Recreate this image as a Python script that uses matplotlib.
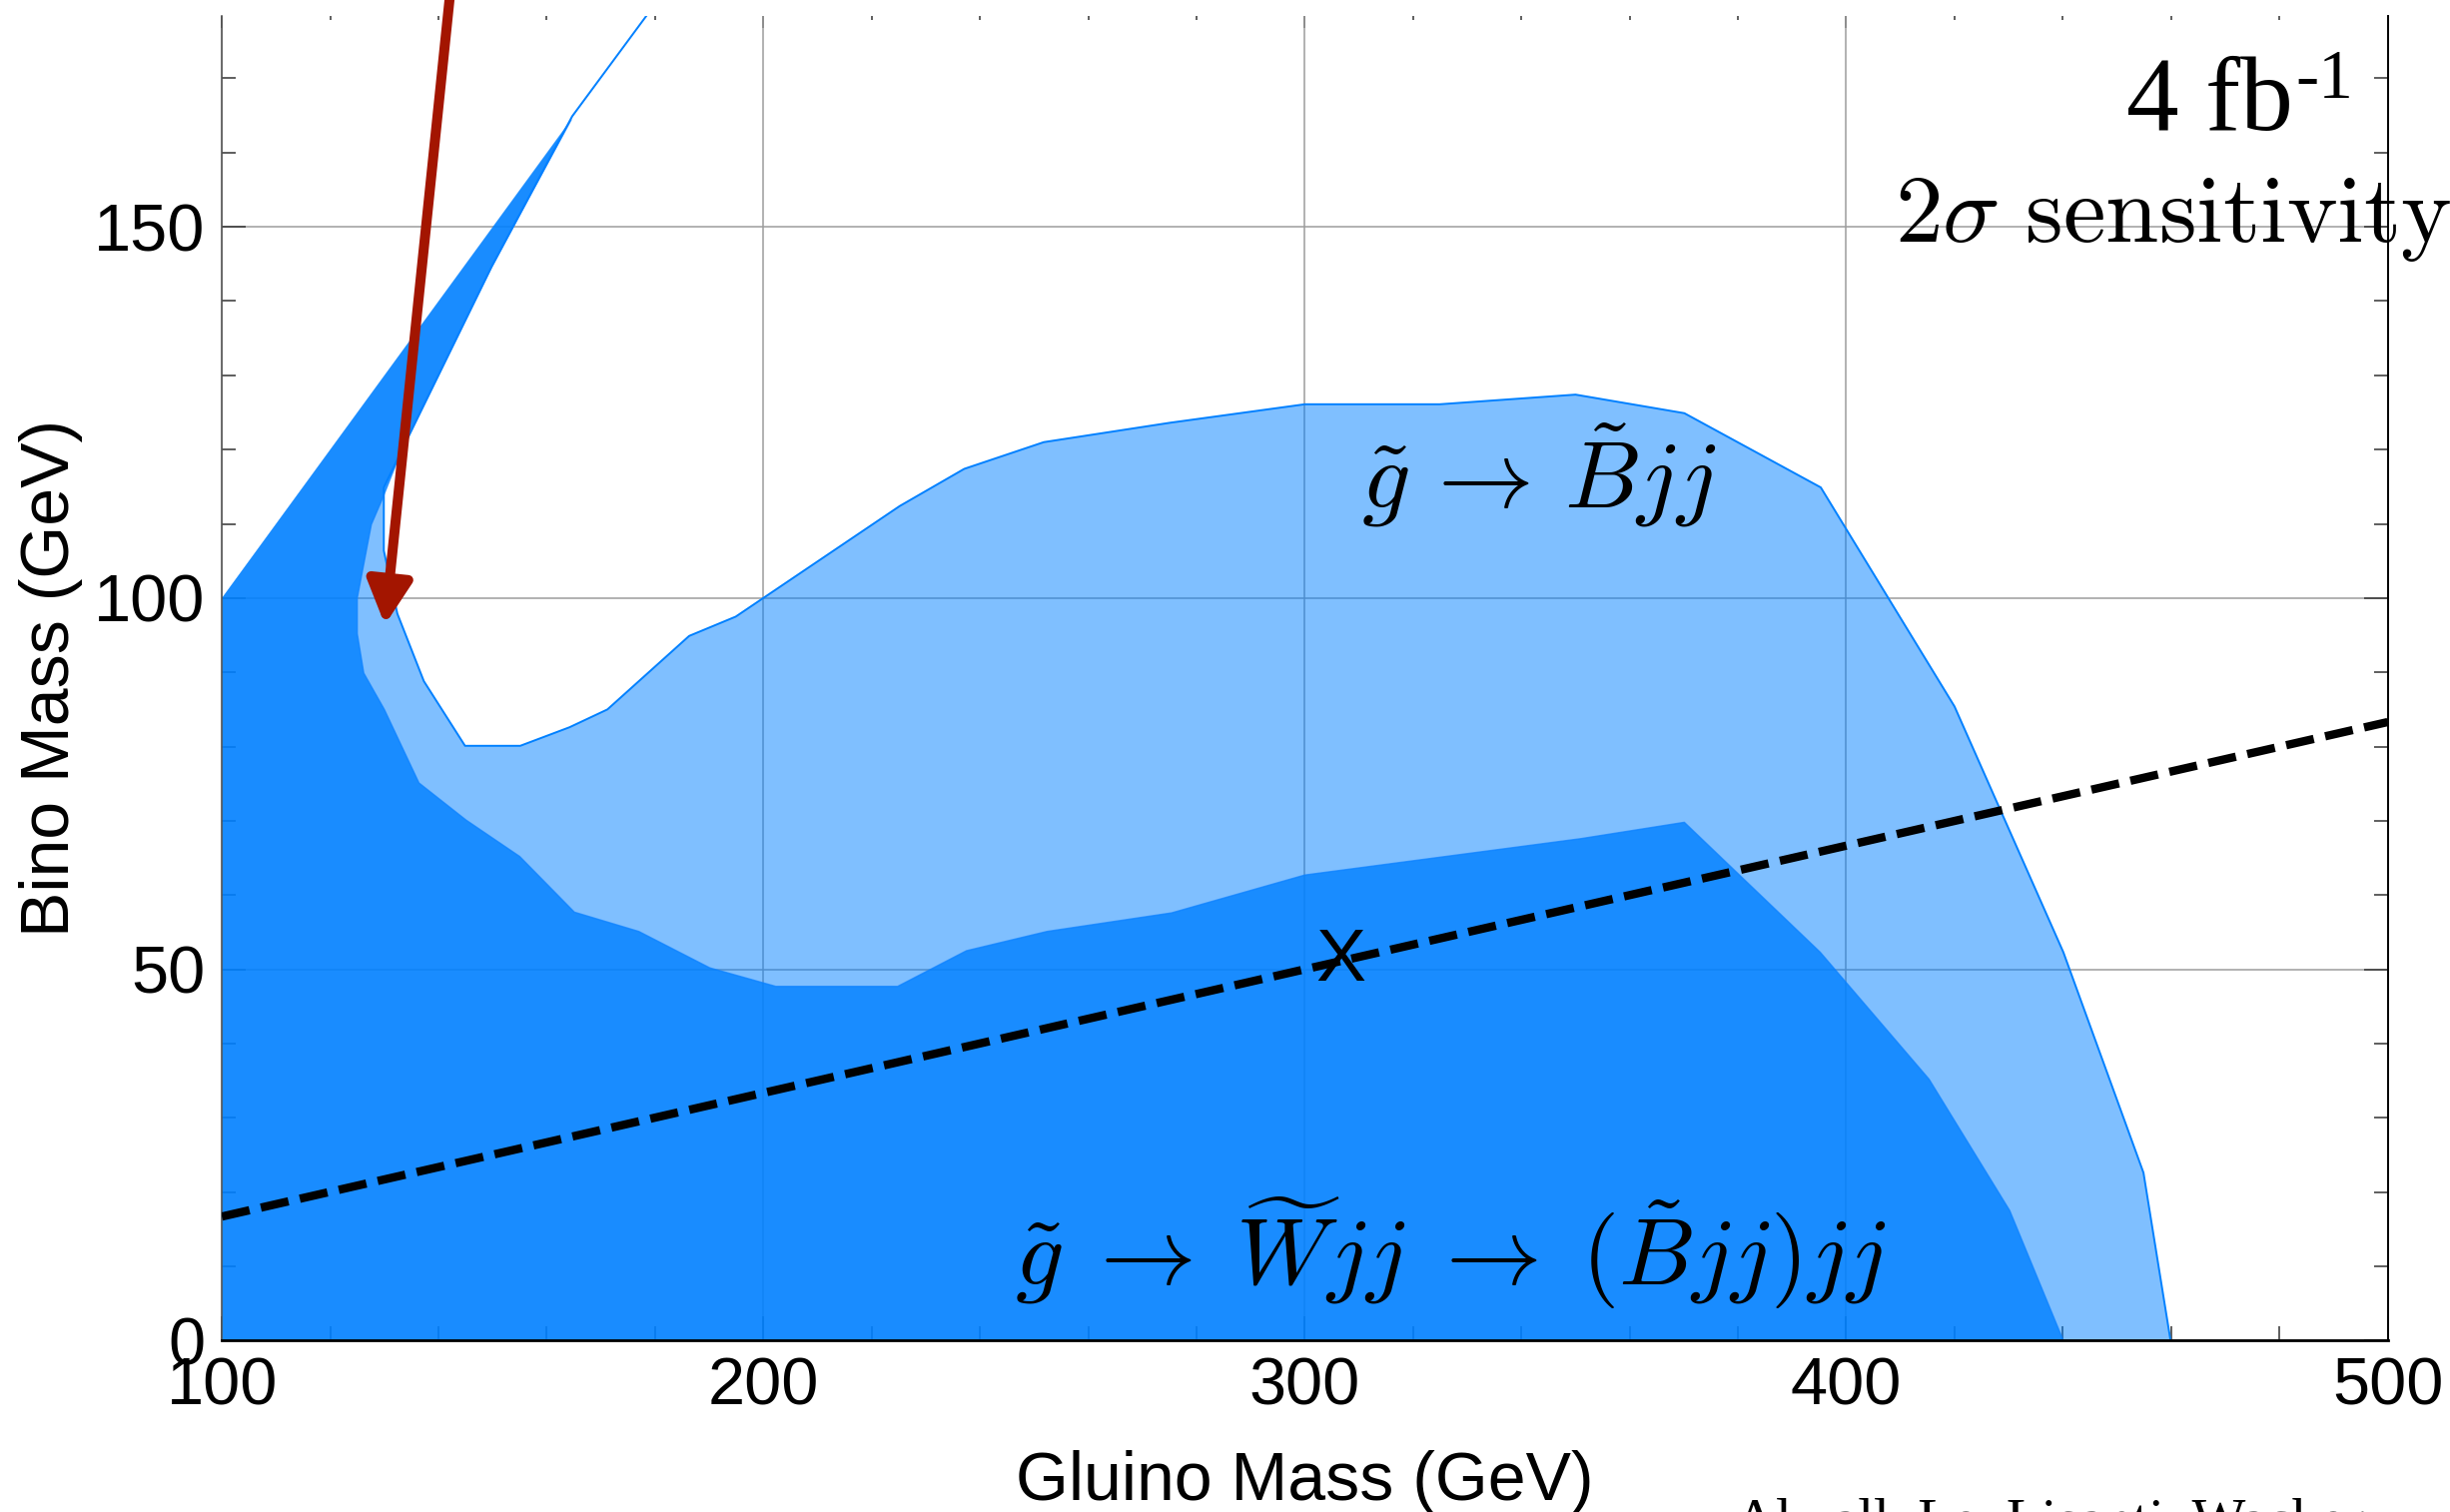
import numpy as np
import matplotlib.pyplot as plt
from matplotlib.ticker import MultipleLocator

plt.rcParams['font.family'] = ['Liberation Sans', 'DejaVu Sans']
plt.rcParams['mathtext.fontset'] = 'cm'

# gluino -> bino jj : 2 sigma sensitivity boundary (light region)
bjj_gluino = [180, 164.7, 149.8, 134.5, 129.9, 129.9, 132.4, 137.3, 144.9, 155.1,
              164.2, 171.2, 186.3, 194.9, 225.2, 237.1, 251.8, 275.0, 300.0, 324.9,
              350.0, 370.1, 395.3, 420.0, 440.1, 454.9, 459.9]
bjj_bino = [180, 164.9, 144.6, 121.8, 114.9, 106.4, 97.9, 88.8, 80.1, 80.1,
            82.6, 85.0, 94.9, 97.5, 112.4, 117.4, 121.0, 123.6, 126.1, 126.1,
            127.4, 124.9, 114.9, 85.4, 52.3, 22.6, 0]

# gluino -> wino jj -> (bino jj) jj : boundary (dark region)
wjj_gluino = [100, 100, 164.5, 149.8, 133.5, 129.6, 127.6, 125.0, 125.0, 126.2,
              130.0, 136.4, 145.1, 155.0, 165.1, 177.0, 190.1, 202.3, 224.8, 237.5,
              252.4, 275.4, 300.0, 351.0, 370.1, 395.2, 415.3, 430.2, 440.1]
wjj_bino = [0, 100, 164.4, 144.6, 120.5, 113.3, 109.9, 100.0, 95.2, 89.9,
            85.0, 75.1, 70.1, 65.2, 57.7, 55.1, 50.2, 47.7, 47.7, 52.5,
            55.1, 57.6, 62.7, 67.6, 69.8, 52.3, 35.2, 17.5, 0]

# dashed benchmark line and benchmark point
line_gluino = [100, 500]
line_bino = [16.7, 83.3]
bench_gluino, bench_bino = 306.7, 48.5

fig = plt.figure(figsize=(24.53, 15.14), dpi=100)
ax = fig.add_axes([0.09058, 0.11341, 0.88398, 0.87603])

blue = '#0080ff'
# light region: everything left of the B~jj boundary
ax.fill(bjj_gluino + [100, 100], bjj_bino + [0, 100], facecolor=blue, alpha=0.5,
        edgecolor='none', zorder=1)
ax.plot(bjj_gluino, bjj_bino, color=blue, lw=1.4, zorder=2)
ax.fill(wjj_gluino, wjj_bino, facecolor=blue, alpha=0.8, edgecolor='none', zorder=2)
ax.plot(wjj_gluino[2:], wjj_bino[2:], color='#0a80ff', lw=1.0, alpha=0.7, zorder=2)

ax.plot(line_gluino, line_bino, color='black', lw=6.0, dashes=(3.4, 1.4), zorder=4)
ax.text(bench_gluino, bench_bino, 'X', fontsize=54, ha='center', va='baseline', zorder=5)

# arrow pointing at the compressed corner
ax.annotate('', xy=(130.1, 96.4), xytext=(142.8, 186),
            arrowprops=dict(arrowstyle='-|>,head_length=2.6,head_width=1.35',
                            color='#a31500', lw=7.2, mutation_scale=10,
                            shrinkA=0, shrinkB=0),
            annotation_clip=False, zorder=6)

# region labels
ax.text(343.2, 112.2, r'$\tilde{g}\,\rightarrow\,\tilde{B}jj$', fontsize=69,
        ha='center', va='baseline', zorder=5)
ax.text(326.9, 7.4,
        r'$\tilde{g}\;\rightarrow\;\widetilde{W}jj\;\rightarrow\;(\tilde{B}jj)jj$',
        fontsize=69, ha='center', va='baseline', zorder=5)

ax.text(482.5, 163.0, '4 fb', fontsize=76, family='Liberation Serif',
        ha='right', va='baseline', zorder=5)
ax.text(482.9, 167.4, '-1', fontsize=50, family='Liberation Serif',
        ha='left', va='baseline', zorder=5)
ax.text(409.0, 148.0, r'$2\sigma\ \mathrm{sensitivity}$', fontsize=69,
        ha='left', va='baseline', zorder=5, clip_on=False)

ax.set_xlim(100, 500)
ax.set_ylim(0, 178.4)
ax.xaxis.set_major_locator(MultipleLocator(100))
ax.xaxis.set_minor_locator(MultipleLocator(20))
ax.yaxis.set_major_locator(MultipleLocator(50))
ax.yaxis.set_minor_locator(MultipleLocator(10))

ax.set_axisbelow(True)
ax.grid(True, which='major', color='#9c9c9c', lw=1.1)

ax.tick_params(which='both', direction='in', bottom=True, left=True, right=True,
               top=False, labelsize=48, width=1.1, color='#333333', pad=12)
ax.tick_params(which='major', length=17)
ax.tick_params(which='minor', length=10)

sec = ax.secondary_xaxis('top')
sec.xaxis.set_major_locator(MultipleLocator(100))
sec.xaxis.set_minor_locator(MultipleLocator(20))
sec.tick_params(which='both', direction='in', labeltop=False, width=1.1, color='#333333')
sec.tick_params(which='major', length=8.5)
sec.tick_params(which='minor', length=3)
sec.spines['top'].set_visible(False)

ax.spines['top'].set_visible(False)
ax.spines['left'].set_color('#555555')
ax.spines['left'].set_linewidth(1.2)
ax.spines['bottom'].set_linewidth(2.0)
ax.spines['right'].set_linewidth(1.4)

ax.set_xlabel('Gluino Mass (GeV)', fontsize=49, labelpad=22)
ax.set_ylabel('Bino Mass (GeV)', fontsize=49, labelpad=8)

fig.text(0.708, -0.017, 'Alwall, Le, Lisanti, Wacker', fontsize=41,
         family='Liberation Serif', ha='left', va='baseline')

fig.savefig('out.png', dpi=100)
